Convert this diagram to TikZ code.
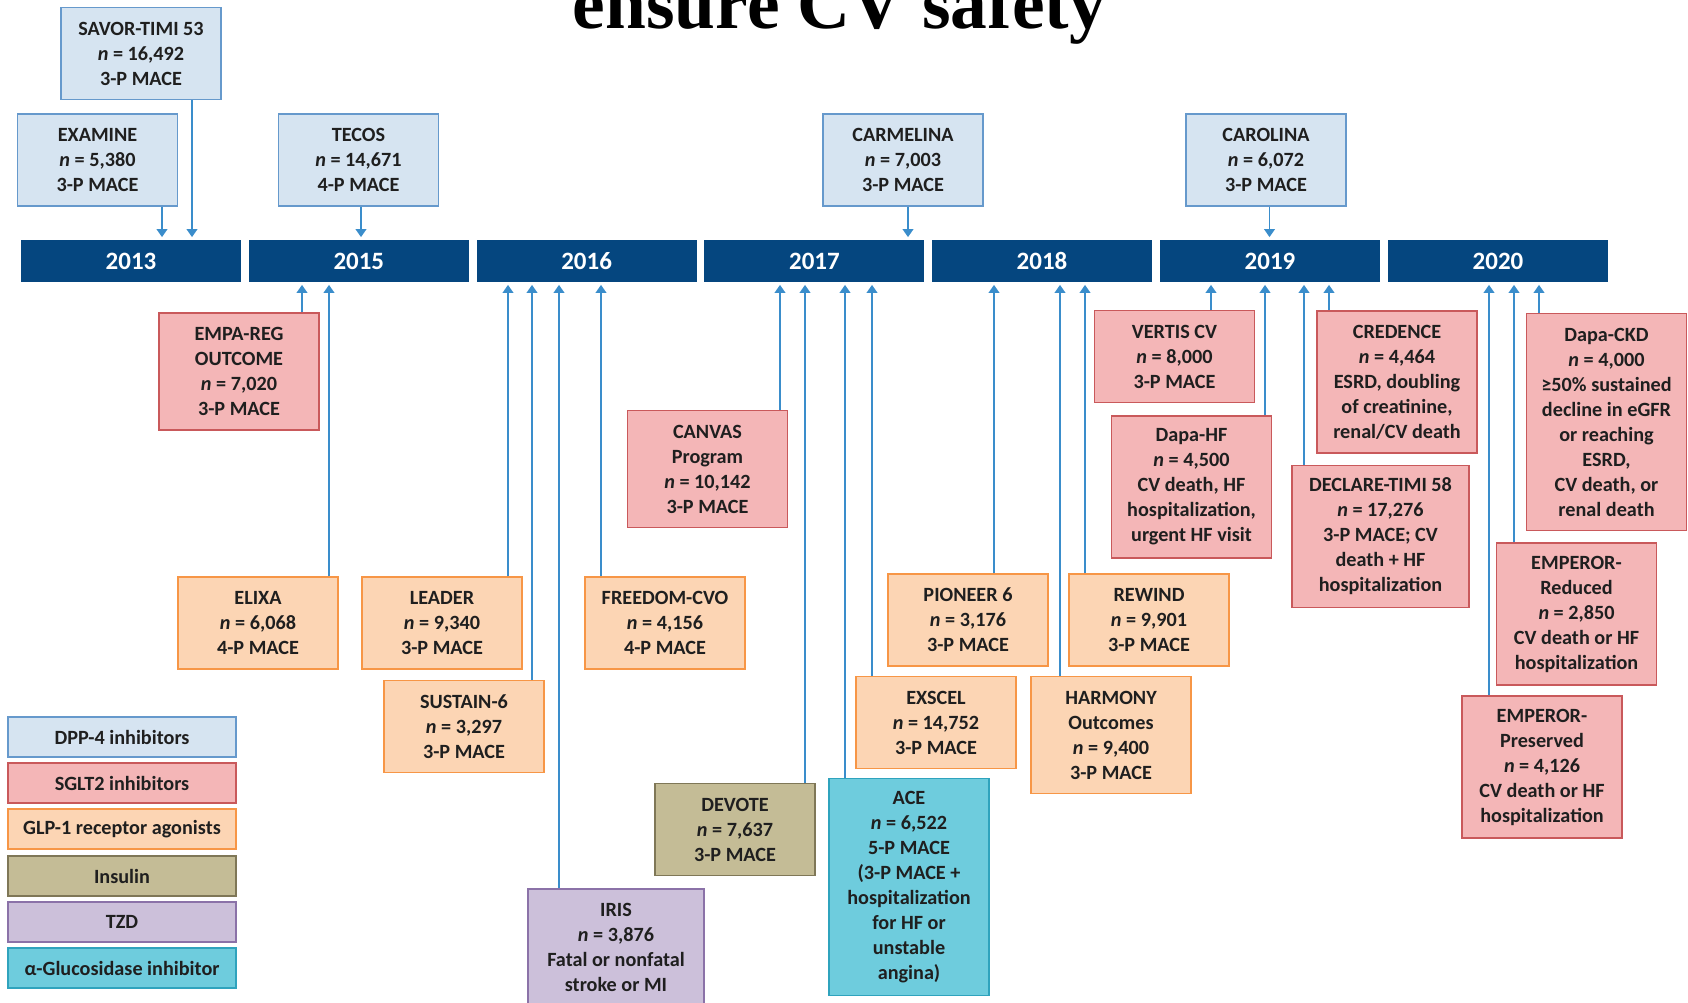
\documentclass[tikz,border=0pt]{standalone}
\usepackage{fontspec}
\setmainfont{Carlito}
\newfontfamily\titlefont{Liberation Serif}
\usetikzlibrary{arrows.meta}
\definecolor{ink}{HTML}{1F1F1F}
\definecolor{barnavy}{HTML}{05467F}
\definecolor{arrblue}{HTML}{3A8DCB}
\definecolor{dppfill}{HTML}{D6E4F1}
\definecolor{dppline}{HTML}{6699CC}
\definecolor{sgltfill}{HTML}{F4B6B7}
\definecolor{sgltline}{HTML}{C9595B}
\definecolor{glpfill}{HTML}{FCD5B4}
\definecolor{glpline}{HTML}{F79646}
\definecolor{insfill}{HTML}{C4BC96}
\definecolor{insline}{HTML}{7F7757}
\definecolor{tzdfill}{HTML}{CCC0DA}
\definecolor{tzdline}{HTML}{8B72A8}
\definecolor{agifill}{HTML}{6ECCDD}
\definecolor{agiline}{HTML}{2FA3BD}
\newcommand\trialfont{\fontsize{11.5pt}{14.23pt}\selectfont\bfseries}
\tikzset{
  trial/.style={
    rectangle, draw=#1line, fill=#1fill, line width=0.8pt, align=center,
    inner sep=0pt, minimum width=3.2cm, text=ink, font=\trialfont
  },
  rows/.style={minimum height={(0.5*#1+0.34)*1cm}},
  legend/.style={minimum width=4.56cm, minimum height=0.8cm},
  yearbar/.style={
    fill=barnavy, draw=none, text=white, inner sep=0pt,
    minimum width=4.4cm, minimum height=0.84cm,
    font=\fontsize{14.2pt}{16pt}\selectfont\bfseries
  },
  link/.style={draw=arrblue, line width=1.1pt,
    -{Triangle[width=2.1mm,length=1.6mm]}, shorten >=0.5mm}
}
\begin{document}
\begin{tikzpicture}[x=0.2mm, y=-0.2mm]
  \useasboundingbox (0,0) rectangle (1688,1003);
  \node[anchor=base west, inner sep=0pt, text=black,
    font=\titlefont\fontsize{41.8pt}{44pt}\selectfont\bfseries] (title) at (572.5,28.5) {ensure CV safety};

  \node[yearbar] (y2013) at (131,261) {2013};
  \node[yearbar] (y2015) at (358.8,261) {2015};
  \node[yearbar] (y2016) at (586.6,261) {2016};
  \node[yearbar] (y2017) at (814.4,261) {2017};
  \node[yearbar] (y2018) at (1042,261) {2018};
  \node[yearbar] (y2019) at (1270,261) {2019};
  \node[yearbar] (y2020) at (1498,261) {2020};

  % above the timeline
  \node[trial=dpp, rows=3] (savor) at (141,53.5) {SAVOR-TIMI 53\\\textit{n} = 16,492\\3-P MACE};
  \node[trial=dpp, rows=3] (examine) at (97.5,160) {EXAMINE\\\textit{n} = 5,380\\3-P MACE};
  \node[trial=dpp, rows=3] (tecos) at (358.5,160) {TECOS\\\textit{n} = 14,671\\4-P MACE};
  \node[trial=dpp, rows=3] (carmelina) at (903,160) {CARMELINA\\\textit{n} = 7,003\\3-P MACE};
  \node[trial=dpp, rows=3] (carolina) at (1266,160) {CAROLINA\\\textit{n} = 6,072\\3-P MACE};

  \draw[link] (examine.south -| 162,0) -- (y2013.north -| 162,0);
  \draw[link] (savor.south -| 192,0) -- (y2013.north -| 192,0);
  \draw[link] (tecos.south -| 361,0) -- (y2015.north -| 361,0);
  \draw[link] (carmelina.south -| 908,0) -- (y2017.north -| 908,0);
  \draw[link] (carolina.south -| 1269.5,0) -- (y2019.north -| 1269.5,0);

  % below the timeline
  \node[trial=sglt, rows=4] (empareg) at (239,371.5) {EMPA-REG\\OUTCOME\\\textit{n} = 7,020\\3-P MACE};
  \node[trial=glp, rows=3] (elixa) at (258,623) {ELIXA\\\textit{n} = 6,068\\4-P MACE};
  \node[trial=glp, rows=3] (leader) at (442,623) {LEADER\\\textit{n} = 9,340\\3-P MACE};
  \node[trial=glp, rows=3] (sustain) at (464,726.5) {SUSTAIN-6\\\textit{n} = 3,297\\3-P MACE};
  \node[trial=tzd, rows=4, minimum width=3.52cm] (iris) at (616,947.5) {IRIS\\\textit{n} = 3,876\\Fatal or nonfatal\\stroke or MI};
  \node[trial=glp, rows=3] (freedom) at (665,623) {FREEDOM-CVO\\\textit{n} = 4,156\\4-P MACE};
  \node[trial=sglt, rows=4] (canvas) at (707.5,469) {CANVAS\\Program\\\textit{n} = 10,142\\3-P MACE};
  \node[trial=ins, rows=3] (devote) at (735,829.5) {DEVOTE\\\textit{n} = 7,637\\3-P MACE};
  \node[trial=agi, rows=8] (ace) at (909,887) {ACE\\\textit{n} = 6,522\\5-P MACE\\(3-P MACE +\\hospitalization\\for HF or\\unstable\\angina)};
  \node[trial=glp, rows=3] (exscel) at (936,722.5) {EXSCEL\\\textit{n} = 14,752\\3-P MACE};
  \node[trial=glp, rows=3] (pioneer) at (968,620) {PIONEER 6\\\textit{n} = 3,176\\3-P MACE};
  \node[trial=glp, rows=4] (harmony) at (1111,735) {HARMONY\\Outcomes\\\textit{n} = 9,400\\3-P MACE};
  \node[trial=glp, rows=3] (rewind) at (1149,620) {REWIND\\\textit{n} = 9,901\\3-P MACE};
  \node[trial=sglt, rows=3] (vertis) at (1174.5,356.5) {VERTIS CV\\\textit{n} = 8,000\\3-P MACE};
  \node[trial=sglt, rows=5] (dapahf) at (1191.5,487) {Dapa-HF\\\textit{n} = 4,500\\CV death, HF\\hospitalization,\\urgent HF visit};
  \node[trial=sglt, rows=5] (credence) at (1397,382) {CREDENCE\\\textit{n} = 4,464\\ESRD, doubling\\of creatinine,\\renal/CV death};
  \node[trial=sglt, rows=5, minimum width=3.54cm] (declare) at (1380.5,536.5) {DECLARE-TIMI 58\\\textit{n} = 17,276\\3-P MACE; CV\\death + HF\\hospitalization};
  \node[trial=sglt, rows=8] (dapackd) at (1606.5,422) {Dapa-CKD\\\textit{n} = 4,000\\≥50\% sustained\\decline in eGFR\\or reaching\\ESRD,\\CV death, or\\renal death};
  \node[trial=sglt, rows=5] (empred) at (1576.5,614) {EMPEROR-\\Reduced\\\textit{n} = 2,850\\CV death or HF\\hospitalization};
  \node[trial=sglt, rows=5] (emppres) at (1542,767) {EMPEROR-\\Preserved\\\textit{n} = 4,126\\CV death or HF\\hospitalization};

  \draw[link] (empareg.north -| 302,0) -- (y2015.south -| 302,0);
  \draw[link] (elixa.north -| 329,0) -- (y2015.south -| 329,0);
  \draw[link] (leader.north -| 508,0) -- (y2016.south -| 508,0);
  \draw[link] (sustain.north -| 532,0) -- (y2016.south -| 532,0);
  \draw[link] (iris.north -| 559,0) -- (y2016.south -| 559,0);
  \draw[link] (freedom.north -| 601,0) -- (y2016.south -| 601,0);
  \draw[link] (canvas.north -| 780,0) -- (y2017.south -| 780,0);
  \draw[link] (devote.north -| 805,0) -- (y2017.south -| 805,0);
  \draw[link] (ace.north -| 845,0) -- (y2017.south -| 845,0);
  \draw[link] (exscel.north -| 872,0) -- (y2017.south -| 872,0);
  \draw[link] (pioneer.north -| 994,0) -- (y2018.south -| 994,0);
  \draw[link] (harmony.north -| 1060,0) -- (y2018.south -| 1060,0);
  \draw[link] (rewind.north -| 1085,0) -- (y2018.south -| 1085,0);
  \draw[link] (vertis.north -| 1211,0) -- (y2019.south -| 1211,0);
  \draw[link] (dapahf.north -| 1265,0) -- (y2019.south -| 1265,0);
  \draw[link] (declare.north -| 1304,0) -- (y2019.south -| 1304,0);
  \draw[link] (credence.north -| 1329,0) -- (y2019.south -| 1329,0);
  \draw[link] (emppres.north -| 1489,0) -- (y2020.south -| 1489,0);
  \draw[link] (empred.north -| 1514,0) -- (y2020.south -| 1514,0);
  \draw[link] (dapackd.north -| 1539,0) -- (y2020.south -| 1539,0);

  % legend
  \node[trial=dpp, legend] (legdpp) at (122,737) {DPP-4 inhibitors};
  \node[trial=sglt, legend] (legsglt) at (122,783) {SGLT2 inhibitors};
  \node[trial=glp, legend] (legglp) at (122,829) {GLP-1 receptor agonists};
  \node[trial=ins, legend] (legins) at (122,876) {Insulin};
  \node[trial=tzd, legend] (legtzd) at (122,922) {TZD};
  \node[trial=agi, legend] (legagi) at (122,968) {α-Glucosidase inhibitor};
\end{tikzpicture}
\end{document}
